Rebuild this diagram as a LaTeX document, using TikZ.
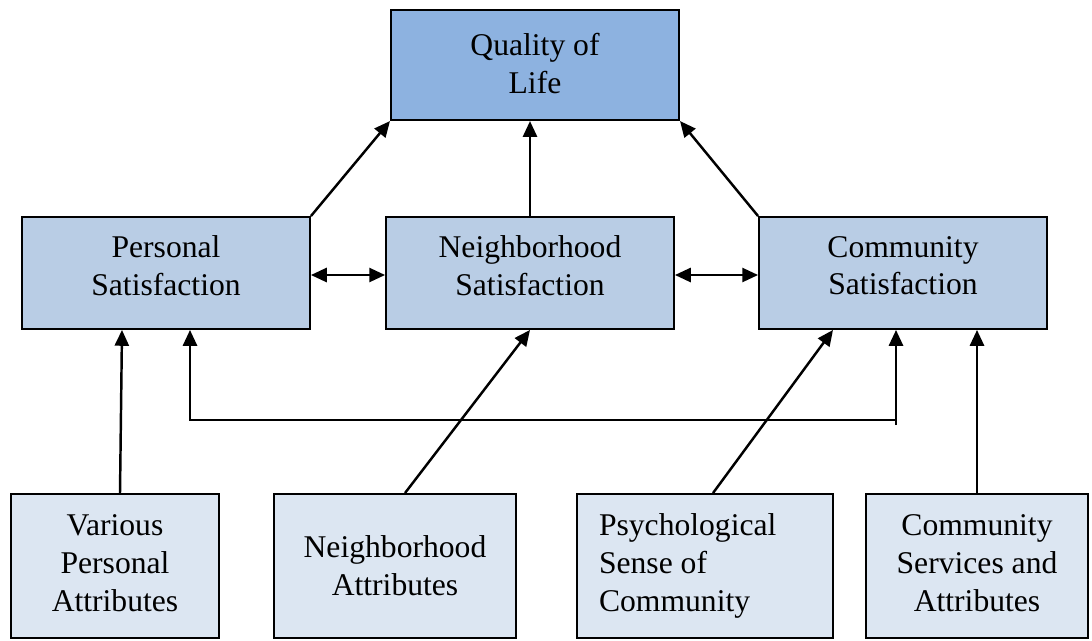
\documentclass[tikz,border=0pt]{standalone}
\usepackage{fontspec}
\setmainfont{Liberation Serif}
\usetikzlibrary{arrows.meta, positioning, calc}
\definecolor{qolblue}{HTML}{8DB2E0}
\definecolor{satblue}{HTML}{B9CDE5}
\definecolor{attrblue}{HTML}{DCE6F2}

\begin{document}
\begin{tikzpicture}[
    x=0.02cm, y=-0.02cm,
    qolbox/.style={
        rectangle,
        minimum width=5.76cm,
        minimum height=2.2cm,
        draw=black,
        line width=1.2pt,
        fill=qolblue,
        align=center,
        text depth=0.08cm,
        font=\fontsize{18}{21.5}\selectfont
    },
    satbox/.style={
        rectangle,
        minimum width=5.76cm,
        minimum height=2.24cm,
        draw=black,
        line width=1.1pt,
        fill=satblue,
        align=center,
        text depth=0.3cm,
        font=\fontsize{18}{21.5}\selectfont
    },
    attrbox/.style={
        rectangle,
        minimum width=#1,
        minimum height=2.88cm,
        draw=black,
        line width=1.1pt,
        fill=attrblue,
        align=center,
        font=\fontsize{18}{21.5}\selectfont
    },
    link/.style={
        -{Triangle[length=9pt, width=8pt]},
        line width=1.4pt
    },
    dlink/.style={
        {Triangle[length=9pt, width=8pt]}-{Triangle[length=9pt, width=8pt]},
        line width=1.4pt
    }
]
\useasboundingbox (0,0) rectangle (1092,640);

% Top
\node[qolbox] (qol) at (535,65) {Quality of\\Life};

% Satisfaction row
\node[satbox] (ps) at (166,273) {Personal\\Satisfaction};
\node[satbox] (ns) at (530,273) {Neighborhood\\Satisfaction};
\node[satbox] (cs) at (903,273) {Community\\Satisfaction};

% Attribute row
\node[attrbox=4.16cm, text depth=0.12cm] (vpa) at (115,566) {Various\\Personal\\Attributes};
\node[attrbox=4.84cm] (na) at (395,566) {Neighborhood\\Attributes};
\node[attrbox=5.12cm, text width=4.24cm, inner xsep=0.44cm, align=flush left] (psc) at (705,566) {Psychological\\Sense of\\Community};
\node[attrbox=4.44cm, text depth=0.12cm] (csa) at (977,566) {Community\\Services and\\Attributes};

% Arrows to quality of life
\draw[link] (ps.north east) -- (qol.south west);
\draw[link] (ns.north) -- (ns.north |- qol.south);
\draw[link] (cs.north west) -- (qol.south east);

% Between satisfactions
\draw[dlink] ($(ps.east)+(0,2)$) -- ($(ns.west)+(0,2)$);
\draw[dlink] ($(ns.east)+(0,2)$) -- ($(cs.west)+(0,2)$);

% Attributes to satisfactions
\draw[link] ($(vpa.north)+(5,0)$) -- ($(ps.south)+(-44,0)$);
\draw[link] ($(na.north)+(10,0)$) -- (ns.south);
\draw[link] ($(psc.north)+(8,0)$) -- ($(cs.south)+(-70,0)$);
\draw[link] (csa.north) -- (csa.north |- cs.south);

% Feedback between personal and community
\coordinate (fbl) at (190,420);
\coordinate (fbr) at (896,420);
\coordinate (fbend) at (896,425);
\draw[link] (fbr) -- (fbl) -- (ps.south -| fbl);
\draw[link] (fbend) -- (cs.south -| fbend);

\end{tikzpicture}
\end{document}
